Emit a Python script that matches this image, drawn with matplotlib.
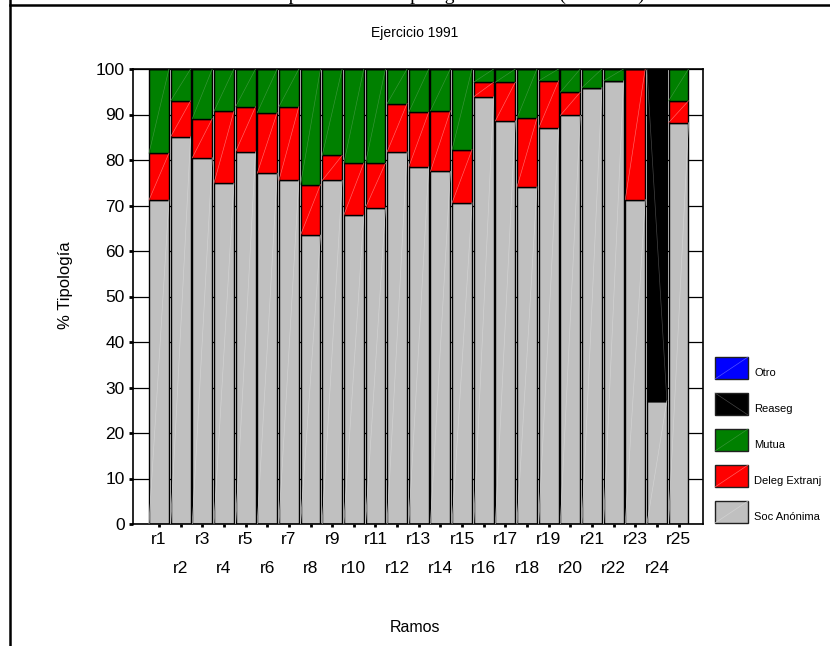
import matplotlib
matplotlib.use('Agg')
import matplotlib.pyplot as plt
import numpy as np
from matplotlib.patches import Rectangle
from matplotlib.lines import Line2D

plt.rcParams['font.family'] = ['Liberation Sans', 'DejaVu Sans']

# datos (% por tipologia, ejercicio 1991)
ramos = ['r%d' % i for i in range(1, 26)]
soc_anonima = [71.2, 85.1, 80.5, 74.9, 81.8, 77.1, 75.5, 63.5, 75.5, 67.9,
               69.5, 81.8, 78.5, 77.5, 70.6, 93.9, 88.6, 74.1, 87.0, 89.8,
               95.9, 97.4, 71.3, 27.1, 88.2]
deleg_extranj = [10.3, 7.9, 8.6, 15.8, 9.9, 13.3, 16.2, 11.1, 5.5, 11.4,
                 9.8, 10.6, 12.0, 13.3, 11.7, 3.2, 8.5, 15.1, 10.4, 5.1,
                 0.0, 0.0, 28.7, 0.0, 4.8]
mutua = [18.5, 7.0, 10.9, 9.3, 8.3, 9.6, 8.3, 25.4, 19.0, 20.7,
         20.7, 7.6, 9.5, 9.2, 17.7, 2.9, 2.9, 10.8, 2.6, 5.1,
         4.1, 2.6, 0.0, 0.0, 7.0]
reaseg = [0.0] * 23 + [72.9, 0.0]
otro = [0.0] * 25

# nombre, valores, color, color de la diagonal
series = [
    ('Soc Anónima', soc_anonima, '#c0c0c0', '#d4d4d4'),
    ('Deleg Extranj', deleg_extranj, '#ff0000', '#ff6a6a'),
    ('Mutua', mutua, '#008000', '#3a963a'),
    ('Reaseg', reaseg, '#000000', '#4a4a4a'),
    ('Otro', otro, '#0000ff', '#5a5aff'),
]

W, H = 830, 646
fig = plt.figure(figsize=(W / 100, H / 100), dpi=100)
ax = fig.add_axes([133 / W, 1 - 524 / H, 570 / W, 455 / H])

x = np.arange(1, len(ramos) + 1)
bw = 0.92
bottom = np.zeros(len(ramos))
for name, vals, col, diag in series:
    vals = np.array(vals)
    ax.bar(x, vals, width=bw, bottom=bottom, color=col, edgecolor='black',
           linewidth=1.0, zorder=2)
    for xi, b, v in zip(x, bottom, vals):
        if v > 0:
            if name == 'Reaseg':
                ax.plot([xi - bw / 2, xi + bw / 2], [b + v, b], color=diag, lw=0.45, zorder=3)
            else:
                ax.plot([xi - bw / 2, xi + bw / 2], [b, b + v], color=diag, lw=0.45, zorder=3)
    bottom += vals

ax.set_xlim(-0.2, 26.13)
ax.set_ylim(0, 100)
ax.set_yticks(np.arange(0, 101, 10))
ax.set_xticks(x, ramos)
ax.yaxis.grid(True, color='black', lw=0.9)
ax.set_axisbelow(True)
for s in ax.spines.values():
    s.set_linewidth(1.2)

ax.tick_params(axis='y', length=3, width=2, pad=3, labelsize=12.5)
ax.tick_params(axis='x', length=2.5, width=2, pad=3, labelsize=12.5)
for i, t in enumerate(ax.xaxis.get_major_ticks()):
    if i % 2 == 1:
        t.set_pad(24)

ax.set_ylabel('% Tipología', fontsize=12)
ax.yaxis.set_label_coords(-0.105, 0.525)

fig.text(0.5, 1 - 33 / H, 'Ejercicio 1991', ha='center', va='center', fontsize=10)
fig.text(0.5, 1 - 628 / H, 'Ramos', ha='center', va='center', fontsize=11.5)

# leyenda a la derecha
ley = list(reversed(series))
for k, (name, vals, col, diag) in enumerate(ley):
    y0 = 1 - (379 + k * 36) / H
    fig.patches.append(Rectangle((715 / W, y0), 33 / W, 22 / H, facecolor=col,
                                 edgecolor='#202020', lw=1.0, transform=fig.transFigure))
    if name == 'Reaseg':
        fig.lines.append(Line2D([715 / W, 748 / W], [y0 + 22 / H, y0], color=diag, lw=0.45,
                                transform=fig.transFigure))
    else:
        fig.lines.append(Line2D([715 / W, 748 / W], [y0, y0 + 22 / H], color=diag, lw=0.45,
                                transform=fig.transFigure))
    fig.text(754 / W, y0 + 1 / H, name, ha='left', va='bottom', fontsize=8)

# marco de la pagina y titulo cortado arriba (como en el original)
fig.lines.append(Line2D([10 / W, 1], [1 - 5 / H, 1 - 5 / H], color='black', lw=1.8,
                        transform=fig.transFigure))
fig.lines.append(Line2D([10 / W, 10 / W], [0, 1], color='black', lw=1.8,
                        transform=fig.transFigure))
fig.text(0.5, 1.0, 'Distribución porcentual de tipología de entidad (año 1991)',
         ha='center', va='baseline', fontsize=14, family='Liberation Serif')

fig.savefig('out.png', dpi=100)
